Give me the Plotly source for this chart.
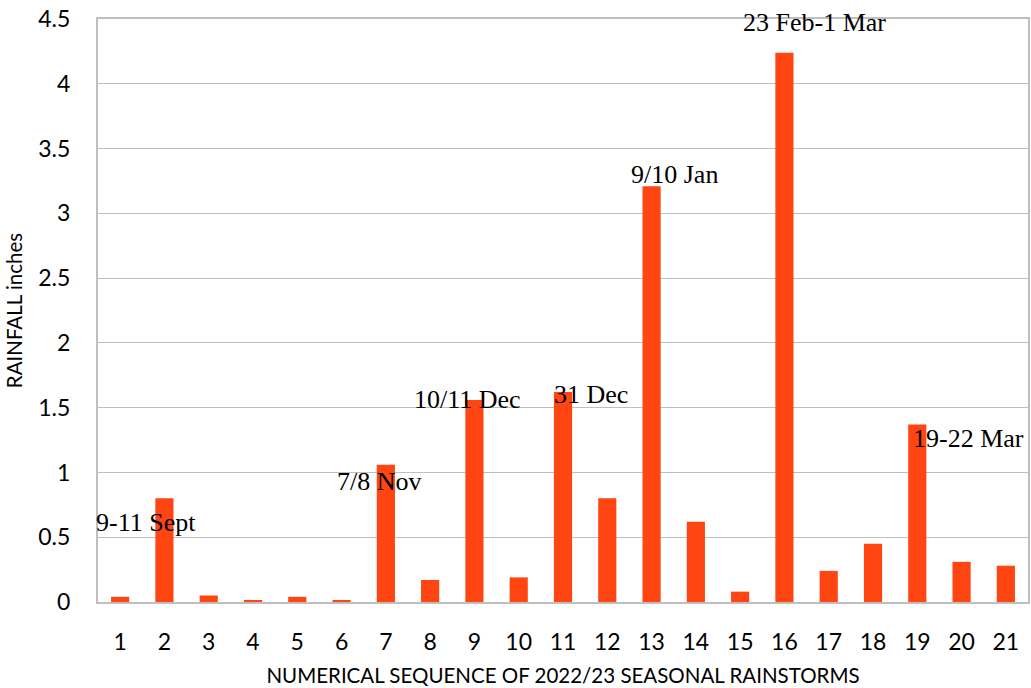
import plotly.graph_objects as go

# Storm sequence numbers and rainfall totals (inches)
storms = list(range(1, 22))
rainfall = [0.04, 0.80, 0.05, 0.01, 0.04, 0.01, 1.06, 0.17, 1.56, 0.19, 1.62,
            0.80, 3.21, 0.62, 0.08, 4.24, 0.24, 0.45, 1.37, 0.31, 0.28]

# Date labels for the notable storms: text, x position, y position
label_text = ["9-11 Sept", "7/8 Nov", "10/11 Dec", "31 Dec", "9/10 Jan",
              "23 Feb-1 Mar", "19-22 Mar"]
label_x = [1.58, 6.86, 8.84, 11.64, 13.52, 16.68, 20.16]
label_y = [0.61, 0.93, 1.56, 1.60, 3.30, 4.47, 1.26]

y_ticks = [0, 0.5, 1, 1.5, 2, 2.5, 3, 3.5, 4, 4.5]
y_tick_text = ["0", "0.5", "1", "1.5", "2", "2.5", "3", "3.5", "4", "4.5"]

fig = go.Figure(go.Bar(
    x=storms,
    y=rainfall,
    marker=dict(color="#FF4512", line=dict(width=0)),
    width=0.41,
))

for t, xv, yv in zip(label_text, label_x, label_y):
    fig.add_annotation(
        x=xv, y=yv, xref="x", yref="y", text=t, showarrow=False,
        font=dict(family="Liberation Serif", size=26, color="black"),
    )

axis_font = dict(family="Lato", size=23, color="black")
grid_color = "#BFBFBF"

fig.update_layout(
    width=1031, height=688,
    margin=dict(l=98, r=1, t=19, b=86),
    paper_bgcolor="white", plot_bgcolor="white",
    showlegend=False,
    xaxis=dict(
        range=[0.5, 21.5],
        tickvals=storms,
        ticktext=[str(s) for s in storms],
        tickfont=axis_font,
        ticks="",
        ticklabelstandoff=18,
        showgrid=False,
        showline=True, linecolor=grid_color, linewidth=2, mirror=True,
        title=dict(text="NUMERICAL SEQUENCE OF 2022/23 SEASONAL RAINSTORMS",
                   font=dict(family="Lato", size=20.5, color="black"),
                   standoff=15),
        zeroline=False,
    ),
    yaxis=dict(
        range=[0, 4.5],
        tickvals=y_ticks,
        ticktext=y_tick_text,
        tickfont=axis_font,
        ticks="",
        ticklabelstandoff=21,
        showgrid=True, gridcolor=grid_color, gridwidth=1,
        showline=True, linecolor=grid_color, linewidth=2, mirror=True,
        title=dict(text="RAINFALL inches",
                   font=dict(family="Lato", size=20.5, color="black"),
                   standoff=10),
        zeroline=False,
    ),
)

fig.write_html("out.html")
